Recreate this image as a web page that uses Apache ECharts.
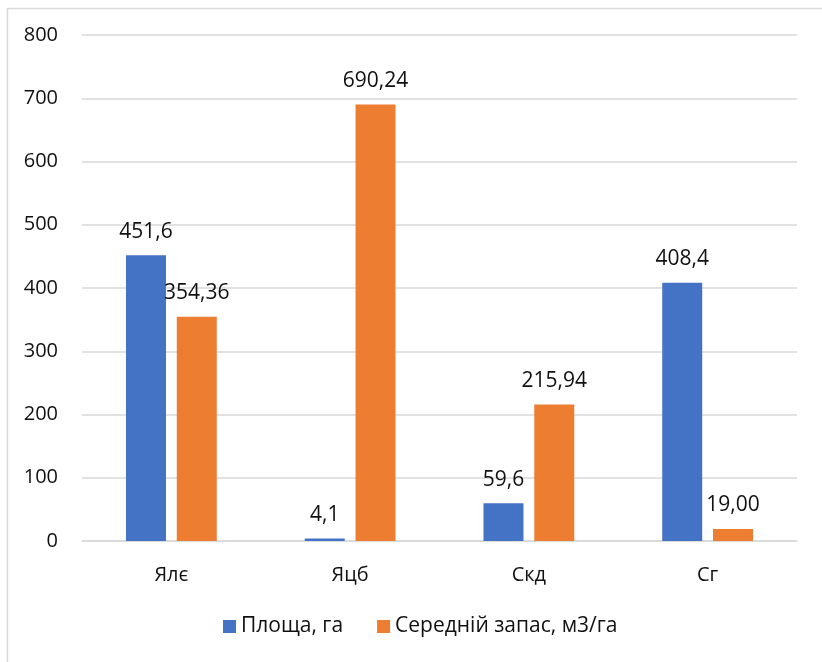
<!DOCTYPE html>
<html><head><meta charset="utf-8">
<script src="https://cdn.jsdelivr.net/npm/echarts@6/dist/echarts.min.js"></script>
<style>html,body{margin:0;padding:0;background:#fff}#c{width:822px;height:662px}</style>
</head><body><div id="c"></div>
<script>
const categories = ['Ялє', 'Яцб', 'Скд', 'Сг'];
const seriesNames = ['Площа, га', 'Середній запас, м3/га'];
const area = [451.6, 4.1, 59.6, 408.4];
const stock = [354.36, 690.24, 215.94, 19.00];
const yTicks = [0, 100, 200, 300, 400, 500, 600, 700, 800];

const FONT = '"Open Sans", "Noto Sans", sans-serif';
const chart = echarts.init(document.getElementById('c'), null, {renderer: 'canvas'});
chart.setOption({
  animation: false,
  backgroundColor: '#fff',
  graphic: [{
    type: 'rect', left: 5, top: 6,
    shape: {width: 830, height: 670},
    style: {fill: 'none', stroke: '#d9d9d9', lineWidth: 1.5}
  }],
  grid: {left: 82, right: 25, top: 35, bottom: 121, containLabel: false},
  legend: {
    top: 611, left: 218, itemWidth: 13, itemHeight: 13, itemGap: 34,
    icon: 'rect',
    textStyle: {fontFamily: FONT, fontSize: 21, color: '#111'},
    data: seriesNames
  },
  xAxis: {
    type: 'category', data: categories,
    axisLine: {lineStyle: {color: '#d9d9d9', width: 1.5}},
    axisTick: {show: false},
    axisLabel: {fontFamily: FONT, fontSize: 20, color: '#111', margin: 24}
  },
  yAxis: {
    type: 'value', min: yTicks[0], max: yTicks[yTicks.length - 1], interval: 100,
    axisLine: {show: false}, axisTick: {show: false},
    splitLine: {lineStyle: {color: '#d9d9d9', width: 1.5}},
    axisLabel: {fontFamily: FONT, fontSize: 20, color: '#111', margin: 24}
  },
  series: [
    {
      name: seriesNames[0], type: 'bar', data: area, barWidth: 40, barGap: '27%',
      itemStyle: {color: '#4472C4'},
      label: {show: true, position: 'top', distance: 13, fontFamily: FONT, fontSize: 21, color: '#111',
        formatter: p => p.value.toFixed(1).replace('.', ',')}
    },
    {
      name: seriesNames[1], type: 'bar', data: stock, barWidth: 40,
      itemStyle: {color: '#ED7D31'},
      label: {show: true, position: 'top', distance: 13, fontFamily: FONT, fontSize: 21, color: '#111',
        formatter: p => p.value.toFixed(2).replace('.', ',')}
    }
  ]
});
</script></body></html>
